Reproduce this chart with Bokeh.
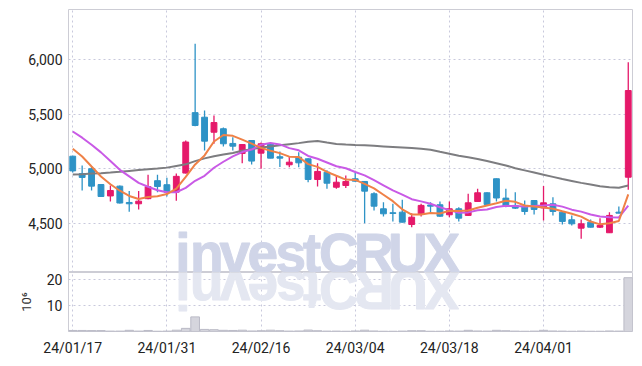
from bokeh.plotting import figure
from bokeh.layouts import column
from bokeh.models import ColumnDataSource, FixedTicker, NumeralTickFormatter, Range1d
from bokeh.models.glyphs import Text
from bokeh.core.properties import value
from bokeh.embed import file_html
from bokeh.resources import INLINE
import math

# ---------------- data ----------------
dates = ["2024-01-17", "2024-01-18", "2024-01-19", "2024-01-22", "2024-01-23", "2024-01-24",
         "2024-01-25", "2024-01-26", "2024-01-29", "2024-01-30", "2024-01-31", "2024-02-01",
         "2024-02-02", "2024-02-05", "2024-02-06", "2024-02-07", "2024-02-08", "2024-02-13",
         "2024-02-14", "2024-02-15", "2024-02-16", "2024-02-19", "2024-02-20", "2024-02-21",
         "2024-02-22", "2024-02-23", "2024-02-26", "2024-02-27", "2024-02-28", "2024-02-29",
         "2024-03-04", "2024-03-05", "2024-03-06", "2024-03-07", "2024-03-08", "2024-03-11",
         "2024-03-12", "2024-03-13", "2024-03-14", "2024-03-15", "2024-03-18", "2024-03-19",
         "2024-03-20", "2024-03-21", "2024-03-22", "2024-03-25", "2024-03-26", "2024-03-27",
         "2024-03-28", "2024-03-29", "2024-04-01", "2024-04-02", "2024-04-03", "2024-04-04",
         "2024-04-05", "2024-04-08", "2024-04-09", "2024-04-11", "2024-04-12", "2024-04-15"]

opens = [5115, 4955, 5000, 4855, 4750, 4840, 4690, 4678, 4725, 4890,
         4853, 4785, 4960, 5515, 5473, 5335, 5367, 5232, 5140, 5259,
         5143, 5225, 5110, 5036, 5106, 5091, 4901, 4968, 4830, 4846,
         4908, 4883, 4770, 4632, 4596, 4601, 4488, 4586, 4667, 4669,
         4577, 4632, 4571, 4699, 4779, 4908, 4730, 4663, 4647, 4708,
         4640, 4678, 4601, 4531, 4454, 4509, 4463, 4412, 4601, 4922]
highs = [5120, 5030, 5020, 4858, 4845, 4845, 4795, 4795, 4945, 4945,
         4917, 4955, 5260, 6147, 5535, 5489, 5378, 5290, 5225, 5262,
         5240, 5228, 5158, 5110, 5152, 5095, 5051, 4985, 4938, 4938,
         4966, 4886, 4785, 4693, 4678, 4715, 4592, 4678, 4693, 4700,
         4700, 4647, 4770, 4816, 4785, 4910, 4816, 4785, 4708, 4712,
         4842, 4739, 4607, 4571, 4534, 4534, 4546, 4601, 4653, 5978]
lows = [4965, 4800, 4800, 4740, 4700, 4680, 4605, 4625, 4720, 4785,
        4745, 4705, 4955, 5390, 5167, 5230, 5204, 5167, 5050, 5039,
        5000, 5095, 5015, 5014, 5014, 4876, 4837, 4816, 4816, 4822,
        4880, 4500, 4617, 4561, 4516, 4505, 4463, 4561, 4601, 4560,
        4555, 4516, 4565, 4695, 4668, 4700, 4647, 4630, 4577, 4580,
        4525, 4571, 4488, 4479, 4357, 4460, 4455, 4410, 4590, 4807]
closes = [4980, 4920, 4840, 4745, 4800, 4685, 4678, 4702, 4835, 4837,
          4785, 4930, 5245, 5397, 5253, 5424, 5229, 5207, 5222, 5070,
          5229, 5097, 5097, 5060, 5054, 4901, 4975, 4867, 4876, 4883,
          4886, 4794, 4656, 4586, 4589, 4509, 4555, 4663, 4656, 4564,
          4632, 4546, 4687, 4779, 4672, 4731, 4660, 4638, 4607, 4626,
          4687, 4607, 4516, 4494, 4494, 4463, 4479, 4571, 4592, 5718]
volume_m = [0.4, 0.4, 0.35, 0.35, 0.15, 0.15, 0.45, 0.15, 0.4, 0.1,
            0.15, 0.5, 1.2, 5.6, 0.8, 0.7, 0.45, 0.4, 0.5, 0.2,
            0.3, 0.5, 0.3, 0.15, 0.2, 0.55, 0.3, 0.15, 0.15, 0.1,
            0.2, 0.5, 0.2, 0.1, 0.1, 0.15, 0.3, 0.3, 0.1, 0.1,
            0.2, 0.15, 0.45, 0.2, 0.15, 0.45, 0.3, 0.15, 0.1, 0.15,
            0.45, 0.2, 0.15, 0.1, 0.15, 0.1, 0.1, 0.2, 0.15, 20.6]
ma5 = [5183, 5112, 5020, 4929, 4857, 4798, 4750, 4722, 4740, 4747,
       4767, 4818, 4926, 5039, 5122, 5250, 5310, 5302, 5267, 5230,
       5191, 5165, 5143, 5111, 5107, 5042, 5017, 4971, 4935, 4900,
       4897, 4861, 4819, 4761, 4702, 4627, 4579, 4580, 4594, 4589,
       4614, 4612, 4617, 4642, 4663, 4683, 4706, 4696, 4662, 4652,
       4644, 4633, 4609, 4586, 4560, 4515, 4489, 4500, 4520, 4765]
ma10 = [5342, 5285, 5220, 5150, 5070, 4990, 4930, 4870, 4834, 4802,
        4783, 4784, 4824, 4889, 4935, 5009, 5064, 5114, 5153, 5176,
        5221, 5237, 5223, 5189, 5169, 5117, 5091, 5057, 5023, 5004,
        4970, 4939, 4895, 4848, 4801, 4762, 4720, 4700, 4678, 4646,
        4620, 4596, 4599, 4618, 4626, 4649, 4659, 4657, 4652, 4658,
        4663, 4669, 4652, 4624, 4606, 4579, 4561, 4554, 4553, 4662]
ma_long = [4947, 4950, 4955, 4959, 4965, 4972, 4980, 4988, 4995, 5002,
           5010, 5025, 5040, 5070, 5095, 5115, 5130, 5145, 5165, 5180,
           5195, 5205, 5215, 5225, 5235, 5248, 5254, 5240, 5228, 5222,
           5218, 5215, 5210, 5205, 5200, 5195, 5190, 5183, 5174, 5155,
           5138, 5120, 5105, 5090, 5070, 5050, 5030, 5005, 4985, 4965,
           4945, 4925, 4905, 4888, 4870, 4855, 4840, 4830, 4825, 4845]
price_ticks = [4500, 5000, 5500, 6000]
volume_ticks = [10, 20]
date_tick_index = [0, 10, 20, 30, 40, 50]
watermark = "investCRUX"

# ---------------- styling ----------------
UP = "#e5196a"
DOWN = "#2e93c6"
GRID = "#c8c9dc"
OUTLINE = "#cdcdd5"
LABEL_FONT = "Roboto"
WM_FONT = "Liberation Sans"
WM_MAIN = "#d0d5e8"
WM_REFL = "#e4e7f1"

n = len(closes)
idx = list(range(n))
colors = [UP if c >= o else DOWN for o, c in zip(opens, closes)]
src = ColumnDataSource(dict(
    x=idx, open=opens, high=highs, low=lows, close=closes,
    top=[max(o, c) for o, c in zip(opens, closes)],
    bottom=[min(o, c) for o, c in zip(opens, closes)],
    color=colors, vol=volume_m, ma5=ma5, ma10=ma10, ma_long=ma_long,
))

xr = Range1d(-0.45, n - 1 + 0.45)
PY0, PY1 = 4047, 6462          # main price range
MAIN_FRAME_H = 263
VOL_TOP = 22.6
VOL_FRAME_H = 65

p = figure(width=640, height=9 + MAIN_FRAME_H, x_range=xr, y_range=Range1d(PY0, PY1),
           output_backend="svg", toolbar_location=None,
           min_border_left=68, min_border_right=8, min_border_top=9, min_border_bottom=0)
p.xaxis.visible = False
p.outline_line_color = OUTLINE

# ---- watermark layout ----
px_per_idx = 9.41
letter_px = [183, 207, 235, 263, 291, 312, 339, 374, 408, 442]
FS = 55
mid_off = 0.346 * FS                      # baseline sits this far below the "middle" anchor
main_px_per_unit = MAIN_FRAME_H / (PY1 - PY0)
vol_px_per_unit = VOL_FRAME_H / VOL_TOP
HAS_OUTLINE = "text_outline_color" in Text.properties()
offsets = [(0.0, 0.0)] if HAS_OUTLINE else [(-1.3, 0.0), (0.0, 0.0), (1.3, 0.0)]


def wm_source(base_y, px_per_unit_y, flip):
    xs, ys, ts, angs = [], [], [], []
    for ch, lp in zip(watermark, letter_px):
        for dx, dy in offsets:
            xs.append((lp + dx - 73) / px_per_idx)
            ys.append(base_y + dy / px_per_unit_y)
            ts.append(ch)
            angs.append(math.pi if (flip and ch != "C") else 0.0)
    return ColumnDataSource(dict(x=xs, y=ys, t=ts, a=angs))


def wm_text(fig, source, color):
    kw = dict(x="x", y="y", text="t", angle="a", source=source, text_font=value(WM_FONT),
              text_font_style=value("bold"), text_font_size=value(f"{FS}px"),
              text_color=color, text_align=value("center"),
              text_baseline=value("middle"))
    if HAS_OUTLINE:
        kw["text_outline_color"] = color
    fig.text(**kw)


wm_text(p, wm_source(PY0 + mid_off / main_px_per_unit, main_px_per_unit, False), WM_MAIN)

p.segment(x0="x", y0="low", x1="x", y1="high", color="color", line_width=1.3, source=src)
p.vbar(x="x", width=0.62, top="top", bottom="bottom", fill_color="color",
       line_color="color", line_width=1, source=src)

p.line(x="x", y="ma_long", source=src, line_color="#7d7d80", line_width=2)
p.line(x="x", y="ma10", source=src, line_color="#c95ae6", line_width=2)
p.line(x="x", y="ma5", source=src, line_color="#ef8147", line_width=2)

p.yaxis.ticker = FixedTicker(ticks=price_ticks)
p.yaxis.formatter = NumeralTickFormatter(format="0,0")
p.xgrid.ticker = FixedTicker(ticks=date_tick_index)
for ax in p.yaxis:
    ax.axis_line_color = None
    ax.major_tick_line_color = None
    ax.minor_tick_line_color = None
    ax.major_tick_out = 0
    ax.major_tick_in = 0
    ax.minor_tick_out = 0
    ax.major_label_standoff = 6
    ax.major_label_text_font = LABEL_FONT
    ax.major_label_text_font_size = "14px"
    ax.major_label_text_color = "#222222"
p.grid.grid_line_color = GRID
p.grid.grid_line_dash = "2 3"

# ---------------- volume pane ----------------
v = figure(width=640, height=VOL_FRAME_H + 21, x_range=xr, y_range=Range1d(0, VOL_TOP),
           output_backend="svg", toolbar_location=None,
           min_border_left=68, min_border_right=8, min_border_top=0, min_border_bottom=21)
v.outline_line_color = OUTLINE

# reflection of the watermark (upside-down letters just below the main pane)
wm_text(v, wm_source(VOL_TOP - mid_off / vol_px_per_unit, vol_px_per_unit, True), WM_REFL)

v.vbar(x="x", width=0.92, top="vol", bottom=0, fill_color="#d5d5dd",
       line_color="#babac6", line_width=1, source=src)

v.yaxis.ticker = FixedTicker(ticks=volume_ticks)
v.yaxis.axis_label = "10\u2076"
v.xaxis.ticker = FixedTicker(ticks=date_tick_index)
v.xaxis.major_label_overrides = {i: dates[i][2:4] + "/" + dates[i][5:7] + "/" + dates[i][8:10]
                                 for i in date_tick_index}
for ax in list(v.yaxis) + list(v.xaxis):
    ax.axis_line_color = None
    ax.major_tick_line_color = None
    ax.minor_tick_line_color = None
    ax.major_tick_out = 0
    ax.major_tick_in = 0
    ax.minor_tick_out = 0
    ax.major_label_text_font = LABEL_FONT
    ax.major_label_text_font_size = "14px"
    ax.major_label_text_color = "#222222"
for ax in v.yaxis:
    ax.major_label_standoff = 6
    ax.axis_label_text_font = LABEL_FONT
    ax.axis_label_text_font_size = "13px"
    ax.axis_label_text_font_style = "normal"
    ax.axis_label_text_color = "#333333"
    ax.axis_label_standoff = 10
for ax in v.xaxis:
    ax.major_label_standoff = 8
v.grid.grid_line_color = GRID
v.grid.grid_line_dash = "2 3"

layout = column(p, v)
open("out.html", "w").write(file_html(layout, INLINE))
